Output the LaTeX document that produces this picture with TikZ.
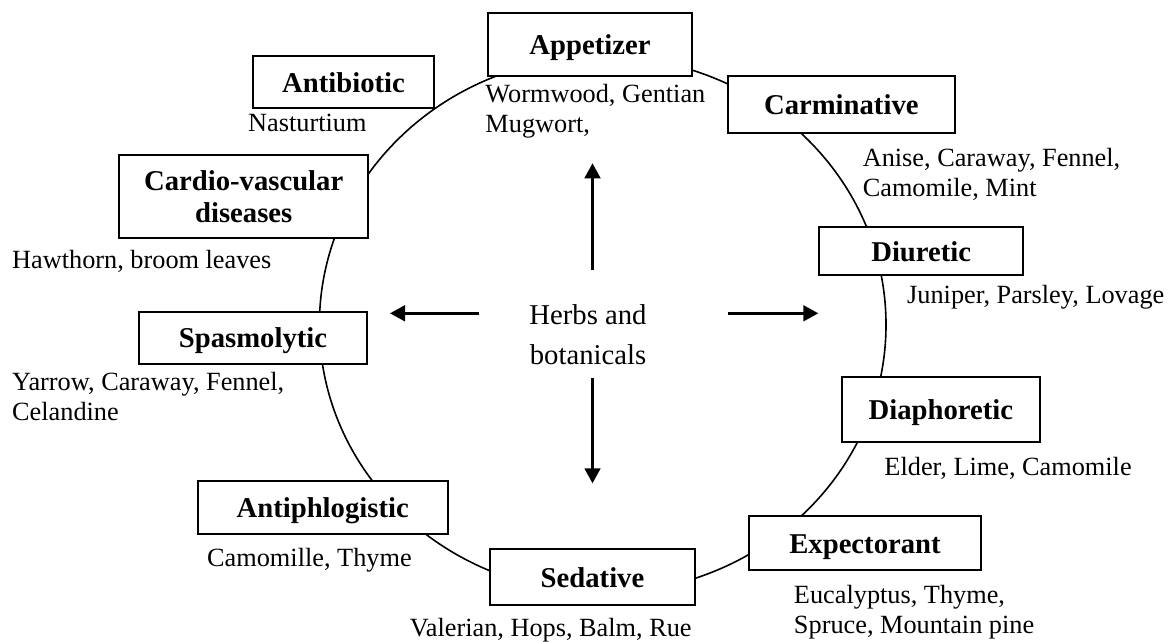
\documentclass[tikz,border=0pt]{standalone}
\usepackage{fontspec}
\setmainfont{Liberation Serif}
\usetikzlibrary{arrows.meta,backgrounds,positioning}
\newcommand{\pxu}{0.4184pt}

\begin{document}
\begin{tikzpicture}[x=0.4184pt, y=-0.4184pt, >={Triangle[length=6.3pt, width=6.6pt]},
			catbox/.style 2 args={draw, fill=white, line width=0.84pt, inner sep=0pt, font=\bfseries\fontsize{12}{13.4}\selectfont, minimum width=#1*\pxu, minimum height=#2*\pxu},
			oneline/.style={text height=11pt, text depth=2.6pt},
			plants/.style={draw=none, inner sep=0pt, anchor=base west, align=left, font=\fontsize{11}{12.6}\selectfont},
			centre/.style={draw=none, inner sep=0pt, align=center, font=\fontsize{12}{17}\selectfont},
			ring/.style={line width=0.67pt},
			spoke/.style={line width=1.1pt, ->}
			]
			\useasboundingbox (0,0) rectangle (1173,641);
			
			\node[catbox={204.6}{63.3}, oneline](app) at (590,44.3) {Appetizer};
			\node[catbox={181.6}{52.3}, oneline](anti) at (343.5,82.2) {Antibiotic};
			\node[catbox={227.3}{57}, oneline](carm) at (841.3,104.5) {Carminative};
			\node[catbox={249.3}{83.3}, align=center](cvd) at (243.7,196.7) {Cardio-vascular\\diseases};
			\node[catbox={204.3}{47.7}, oneline](diur) at (921.2,251.2) {Diuretic};
			\node[catbox={227.4}{52.3}, oneline](spas) at (253,337.8) {Spasmolytic};
			\node[catbox={198.3}{64.4}, oneline](diaph) at (940.8,409.5) {Diaphoretic};
			\node[catbox={250}{53.3}, oneline](aphl) at (322.7,507.3) {Antiphlogistic};
			\node[catbox={232}{54}, oneline](expe) at (865,543) {Expectorant};
			\node[catbox={205}{55.7}, oneline](seda) at (592.5,577.2) {Sedative};
			
			% two-line lists sit on the baseline of their last line
			\node[plants](appPl) at (485,132.5) {Wormwood, Gentian\\Mugwort,};
			\node[plants](antiPl) at (247.7,131.7) {Nasturtium};
			\node[plants](carmPl) at (862.3,196.7) {Anise, Caraway, Fennel,\\Camomile, Mint};
			\node[plants](cvdPl) at (11.7,268.3) {Hawthorn, broom leaves};
			\node[plants](diurPl) at (906.7,303.3) {Juniper, Parsley, Lovage};
			\node[plants](spasPl) at (11.7,420.7) {Yarrow, Caraway, Fennel,\\Celandine};
			\node[plants](diaphPl) at (884,475) {Elder, Lime, Camomile};
			\node[plants](aphlPl) at (206.7,566) {Camomille, Thyme};
			\node[plants](expePl) at (793.5,633.3) {Eucalyptus, Thyme,\\Spruce, Mountain pine};
			\node[plants](sedaPl) at (409.3,636.7) {Valerian, Hops, Balm, Rue};
			
			\node[centre](herbs) at (588,334.8) {Herbs and\\botanicals};
			
			\coordinate (upS) at (592.5,270);
			\coordinate (upE) at (592.5,163.3);
			\coordinate (dnS) at (592.5,378.3);
			\coordinate (dnE) at (592.5,483.3);
			\coordinate (ltS) at (479.3,313.3);
			\coordinate (ltE) at (390,313.3);
			\coordinate (rtS) at (728.3,313.3);
			\coordinate (rtE) at (818.3,313.3);
			\draw [spoke] (upS) to (upE);
			\draw [spoke] (dnS) to (dnE);
			\draw [spoke] (ltS) to (ltE);
			\draw [spoke] (rtS) to (rtE);
			
			\begin{pgfonlayer}{background}
			\draw [ring] (602.7,324.7) ellipse [x radius=283.3, y radius=268.2];
			\end{pgfonlayer}
\end{tikzpicture}
\end{document}
